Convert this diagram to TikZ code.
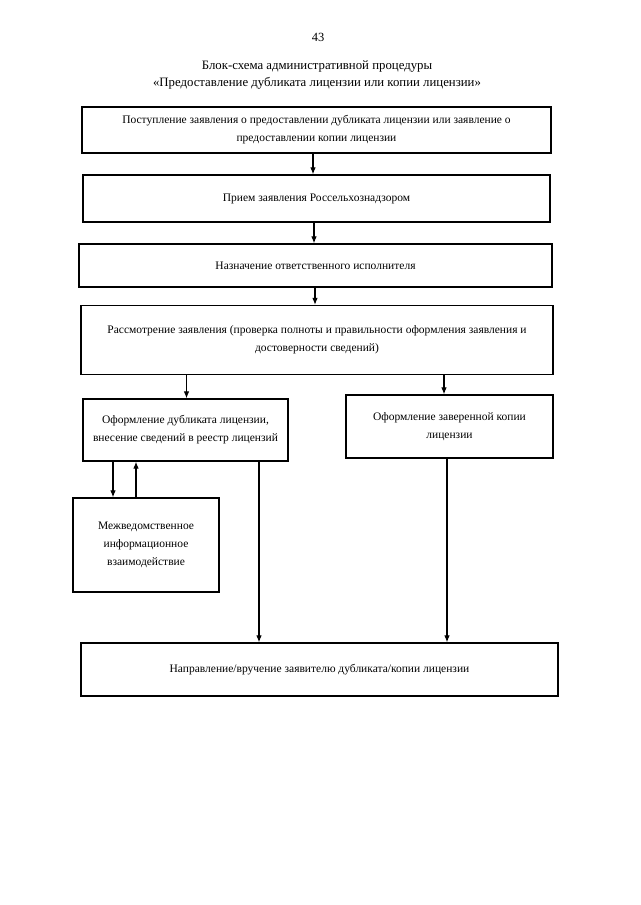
\documentclass[tikz,border=0pt]{standalone}
\usepackage{fontspec}
\setmainfont{Liberation Serif}
\usetikzlibrary{arrows.meta}
\begin{document}
\begin{tikzpicture}[x=1pt,y=-1pt,
  box/.style={draw,line width=1.2pt,rectangle,inner sep=0pt,align=center,font=\fontsize{11.5}{18}\selectfont},
  arr/.style={line width=1.1pt,-{Latex[length=7pt,width=5.5pt]}}]
\useasboundingbox[fill=white] (0,0) rectangle (640,905);
\node (pg) at (318,37) {\fontsize{12.5}{14}\selectfont 43};
\node[align=center,font=\fontsize{12.8}{16.5}\selectfont] (title) at (317,75) {Блок-схема административной процедуры\\«Предоставление дубликата лицензии или копии лицензии»};
\node[box,minimum width=469pt,minimum height=46pt] (b1) at (316.5,130) {Поступление заявления о предоставлении дубликата лицензии или заявление о\\предоставлении копии лицензии};
\node[box,minimum width=467pt,minimum height=47pt] (b2) at (316.5,198.5) {Прием заявления Россельхознадзором};
\node[box,minimum width=473pt,minimum height=43pt] (b3) at (315.5,265.5) {Назначение ответственного исполнителя};
\node[box,minimum width=472pt,minimum height=69pt] (b4) at (317,340) {Рассмотрение заявления (проверка полноты и правильности оформления заявления и\\достоверности сведений)};
\node[box,minimum width=205pt,minimum height=62pt] (dup) at (185.5,430) {Оформление дубликата лицензии,\\внесение сведений в реестр лицензий};
\node[box,minimum width=207pt,minimum height=63pt] (copy) at (449.5,426.5) {Оформление заверенной копии\\лицензии};
\node[box,minimum width=146pt,minimum height=94pt] (mv) at (146,545) {Межведомственное\\информационное\\взаимодействие};
\node[box,minimum width=477pt,minimum height=53pt] (fin) at (319.5,669.5) {Направление/вручение заявителю дубликата/копии лицензии};
\coordinate (c1) at (313,0);
\coordinate (c2) at (314,0);
\coordinate (c3) at (315,0);
\coordinate (c4) at (186.5,0);
\coordinate (c5) at (444,0);
\coordinate (c6) at (113,0);
\coordinate (c7) at (136,0);
\coordinate (c8) at (259,0);
\coordinate (c9) at (447,0);
\draw[arr] (b1.south -| c1) -- (b2.north -| c1);
\draw[arr] (b2.south -| c2) -- (b3.north -| c2);
\draw[arr] (b3.south -| c3) -- (b4.north -| c3);
\draw[arr] (b4.south -| c4) -- (dup.north -| c4);
\draw[arr] (b4.south -| c5) -- (copy.north -| c5);
\draw[arr] (dup.south -| c6) -- (mv.north -| c6);
\draw[arr] (mv.north -| c7) -- (dup.south -| c7);
\draw[arr] (dup.south -| c8) -- (fin.north -| c8);
\draw[arr] (copy.south -| c9) -- (fin.north -| c9);
\end{tikzpicture}
\end{document}
